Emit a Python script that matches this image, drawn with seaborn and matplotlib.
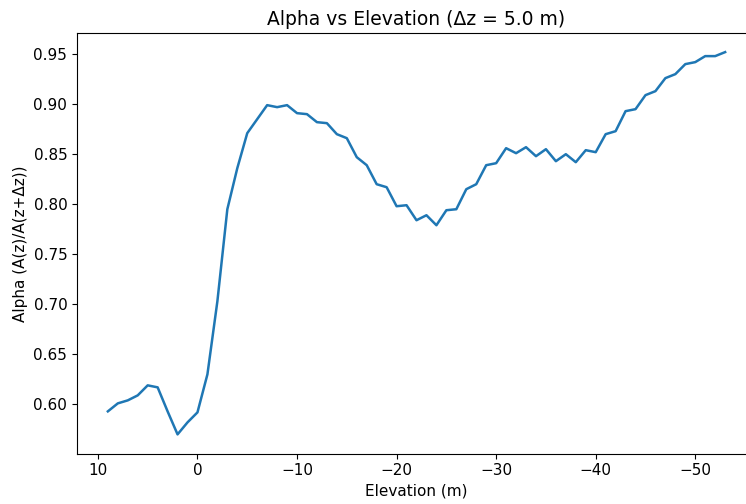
import matplotlib
matplotlib.use("Agg")
import matplotlib.pyplot as plt
import seaborn as sns
import numpy as np
import pandas as pd

elevation = list(range(9, -54, -1))
alpha = [0.593, 0.601, 0.604, 0.609, 0.619, 0.617, 0.593, 0.570, 0.582, 0.592,
         0.630, 0.703, 0.795, 0.836, 0.871, 0.885, 0.899, 0.897, 0.899, 0.891,
         0.890, 0.882, 0.881, 0.870, 0.866, 0.847, 0.839, 0.820, 0.817, 0.798,
         0.799, 0.784, 0.789, 0.779, 0.794, 0.795, 0.815, 0.820, 0.839, 0.841,
         0.856, 0.851, 0.857, 0.848, 0.855, 0.843, 0.850, 0.842, 0.854, 0.852,
         0.870, 0.873, 0.893, 0.895, 0.909, 0.913, 0.926, 0.930, 0.940, 0.942,
         0.948, 0.948, 0.952]

df = pd.DataFrame({"Elevation": elevation, "Alpha": alpha})

W, H = 746, 504
fig = plt.figure(figsize=(W / 100, H / 100), dpi=100)
left, right, top, bottom = 77, 756, 33, 453.5
ax = fig.add_axes([left / W, (H - bottom) / H, (right - left) / W, (bottom - top) / H])
sns.lineplot(data=df, x="Elevation", y="Alpha", ax=ax, color="#1f77b4", linewidth=1.8)
ax.invert_xaxis()
ax.set_title("Alpha vs Elevation (Δz = 5.0 m)", fontsize=13.5)
ax.set_xlabel("Elevation (m)", fontsize=11)
ax.set_ylabel("Alpha (A(z)/A(z+Δz))", fontsize=11)
ax.tick_params(labelsize=11)
fig.savefig("out.png", dpi=100)
